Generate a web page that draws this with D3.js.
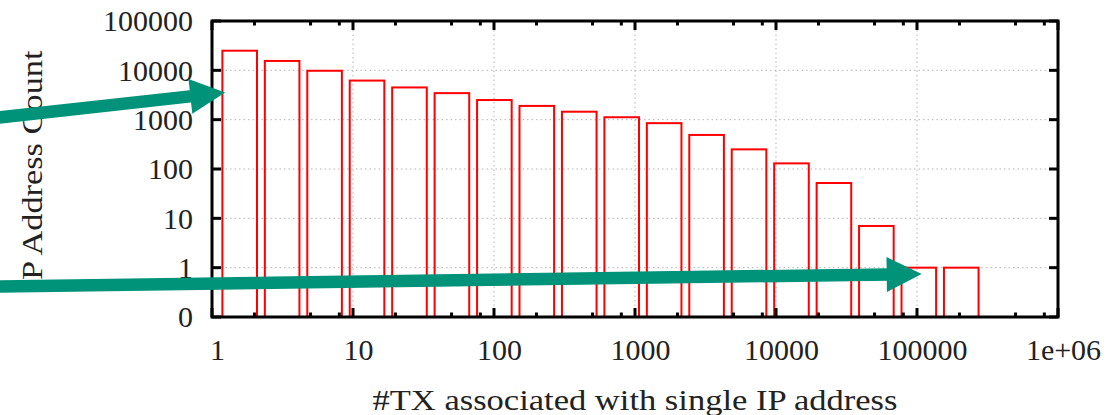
<!DOCTYPE html>
<html>
<head>
<meta charset="utf-8">
<script src="https://cdn.jsdelivr.net/npm/d3@7"></script>
<style>
  html, body { margin: 0; padding: 0; background: #fff; }
  svg { display: block; }
  text { font-family: "Liberation Serif", "Times New Roman", serif; fill: #222; }
</style>
</head>
<body>
<svg id="chart" width="1115" height="415"></svg>
<script>
// ---- data ----
// bins: [2^k, 2^(k+1)), k = 0..17
const binStarts = [1, 2, 4, 8, 16, 32, 64, 128, 256, 512, 1024, 2048, 4096, 8192, 16384, 32768, 65536, 131072];
const ipCounts  = [25000, 15500, 9800, 6200, 4500, 3450, 2500, 1900, 1450, 1120, 850, 490, 250, 130, 52, 7, 1, 1];
const xTickValues = [1, 10, 100, 1000, 10000, 100000, 1000000];
const xTickLabels = ["1", "10", "100", "1000", "10000", "100000", "1e+06"];
const yTickValues = [0.1, 1, 10, 100, 1000, 10000, 100000];
const yTickLabels = ["0", "1", "10", "100", "1000", "10000", "100000"];
const xLabel = "#TX associated with single IP address";
const yLabel = "IP Address Count";
// annotation arrows, in data coordinates [x, y] (start, tip)
const arrowStarts = [[0.0313, 1114], [0.0313, 0.416]];
const arrowTips   = [[1.24, 3550], [108000, 0.745]];

// ---- layout ----
const svg = d3.select("#chart");
const L = 212, R = 1058, T = 21, B = 317;
const x = d3.scaleLog().domain([1, 1e6]).range([L, R]);
const y = d3.scaleLog().domain([0.1, 1e5]).range([B, T]);

svg.append("rect").attr("width", 1115).attr("height", 415).attr("fill", "#fff");

// grid
const grid = svg.append("g").attr("stroke", "#b4b4b4").attr("stroke-width", 1)
  .attr("stroke-dasharray", "1.5,3");
grid.selectAll("line.gx").data(xTickValues.slice(1, -1)).enter().append("line")
  .attr("x1", d => x(d)).attr("x2", d => x(d)).attr("y1", T).attr("y2", B);
grid.selectAll("line.gy").data(yTickValues.slice(1, -1)).enter().append("line")
  .attr("y1", d => y(d)).attr("y2", d => y(d)).attr("x1", L).attr("x2", R);

// bars
svg.append("g").selectAll("rect").data(binStarts.map((s, i) => ({s, v: ipCounts[i]}))).enter()
  .append("rect")
  .attr("x", d => x(d.s * 1.185))
  .attr("width", d => x(d.s * 2.085) - x(d.s * 1.185))
  .attr("y", d => y(d.v))
  .attr("height", d => y(0.1) - y(d.v))
  .attr("fill", "none").attr("stroke", "#ff0000").attr("stroke-width", 2);

// axes ticks
const ax = svg.append("g").attr("stroke", "#000").attr("stroke-width", 3);
const minorX = [];
xTickValues.slice(0, -1).forEach(d => [2, 5, 8].forEach(m => minorX.push(d * m)));
// bottom / top major
xTickValues.forEach(d => {
  ax.append("line").attr("x1", x(d)).attr("x2", x(d)).attr("y1", B).attr("y2", B - 9);
  ax.append("line").attr("x1", x(d)).attr("x2", x(d)).attr("y1", T).attr("y2", T + 9);
});
minorX.forEach(d => {
  ax.append("line").attr("x1", x(d)).attr("x2", x(d)).attr("y1", B).attr("y2", B - 4.5);
  ax.append("line").attr("x1", x(d)).attr("x2", x(d)).attr("y1", T).attr("y2", T + 4.5);
});
yTickValues.forEach(d => {
  ax.append("line").attr("y1", y(d)).attr("y2", y(d)).attr("x1", L).attr("x2", L + 9);
  ax.append("line").attr("y1", y(d)).attr("y2", y(d)).attr("x1", R).attr("x2", R - 9);
});
// border
svg.append("rect").attr("x", L).attr("y", T).attr("width", R - L).attr("height", B - T)
  .attr("fill", "none").attr("stroke", "#000").attr("stroke-width", 3);

// tick labels
svg.append("g").selectAll("text").data(xTickValues).enter().append("text")
  .attr("x", d => x(d) + 5.5).attr("y", 360)
  .attr("text-anchor", "middle").attr("font-size", 30)
  .text((d, i) => xTickLabels[i]);
svg.append("g").selectAll("text").data(yTickValues).enter().append("text")
  .attr("x", 193).attr("y", d => y(d)).attr("dy", "0.34em")
  .attr("text-anchor", "end").attr("font-size", 30)
  .text((d, i) => yTickLabels[i]);

// axis titles
svg.append("text").attr("x", (L + R) / 2).attr("y", 410)
  .attr("text-anchor", "middle").attr("font-size", 30)
  .attr("textLength", 525).attr("lengthAdjust", "spacingAndGlyphs")
  .text(xLabel);
svg.append("text").attr("transform", `translate(42,${(T + B) / 2 + 2}) rotate(-90)`)
  .attr("text-anchor", "middle").attr("font-size", 30)
  .attr("textLength", 241).attr("lengthAdjust", "spacingAndGlyphs")
  .text(yLabel);

// arrows
const teal = "#00937a";
const ag = svg.append("g");
arrowStarts.forEach((s, i) => {
  const x0 = x(s[0]), y0 = y(s[1]);
  const x1 = x(arrowTips[i][0]), y1 = y(arrowTips[i][1]);
  const dx = x1 - x0, dy = y1 - y0, len = Math.hypot(dx, dy);
  const ux = dx / len, uy = dy / len, px = -uy, py = ux;
  const hl = 35, hw = 17.5;
  const bx = x1 - ux * hl, by = y1 - uy * hl;
  ag.append("line").attr("x1", x0 - ux * 20).attr("y1", y0 - uy * 20)
    .attr("x2", bx + ux * 2).attr("y2", by + uy * 2)
    .attr("stroke", teal).attr("stroke-width", 12.5);
  ag.append("path")
    .attr("d", `M${x1},${y1}L${bx + px * hw},${by + py * hw}L${bx - px * hw},${by - py * hw}Z`)
    .attr("fill", teal);
});
</script>
</body>
</html>
